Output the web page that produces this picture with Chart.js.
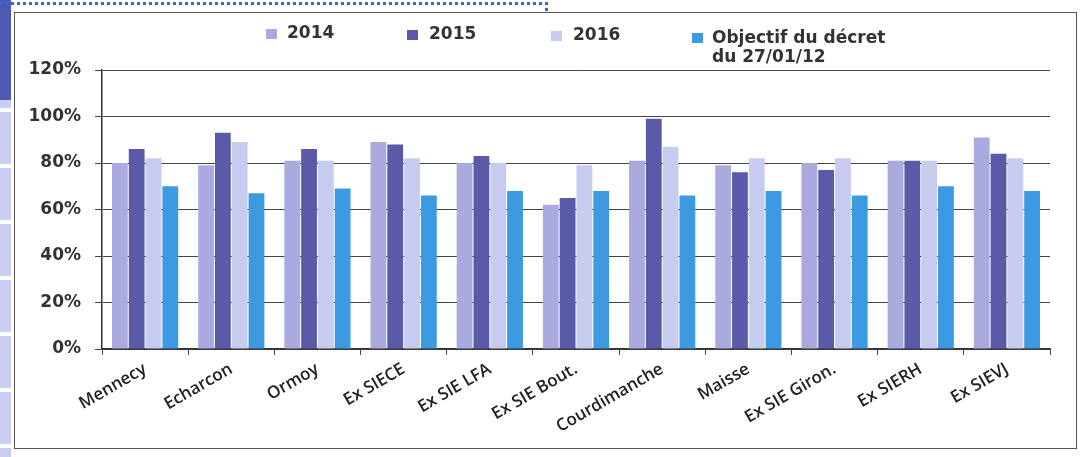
<!DOCTYPE html>
<html>
<head>
<meta charset="utf-8">
<script src="https://cdn.jsdelivr.net/npm/chart.js@4.4.0/dist/chart.umd.min.js"></script>
<style>
  html, body { margin: 0; padding: 0; background: #fff; }
  #wrap { position: relative; width: 1083px; height: 457px; overflow: hidden; background: #fff; }
  #frame { position: absolute; left: 14px; top: 12px; width: 1063px; height: 437px; border: 1px solid #555; box-sizing: border-box; }
  #strip { position: absolute; left: 0; top: 0; width: 11px; height: 457px;
    background: repeating-linear-gradient(#c9cdf0 0, #c9cdf0 52px, #fff 52px, #fff 56px);
  }
  #stripTop { position: absolute; left: 0; top: 0; width: 11px; height: 100px; background: #4d5ab2; }
  #dots { position: absolute; left: 0; top: 2px; width: 545px; height: 6px;
    border-top: 3px dotted #2f6fc6; border-right: 3px dotted #2f6fc6; }
  #legend .box { position: absolute; width: 11px; height: 10px; }
  #legend .txt { position: absolute; font: bold 17px "DejaVu Sans"; line-height: 19px; color: #333; }
  canvas { position: absolute; left: 0; top: 0; }
</style>
</head>
<body>
<div id="wrap">
  <div id="strip"></div>
  <div id="stripTop"></div>
  <div id="dots"></div>
  <div id="frame"></div>
  <canvas id="chart_elem" width="1083" height="457"></canvas>
  <div id="legend"></div>
</div>
<script>
// data (percent)
const categories = ['Mennecy', 'Echarcon', 'Ormoy', 'Ex SIECE', 'Ex SIE LFA', 'Ex SIE Bout.',
  'Courdimanche', 'Maisse', 'Ex SIE Giron.', 'Ex SIERH', 'Ex SIEVJ'];

const values2014 = [80, 79, 81, 89, 80, 62, 81, 79, 80, 81, 91];
const values2015 = [86, 93, 86, 88, 83, 65, 99, 76, 77, 81, 84];
const values2016 = [82, 89, 81, 82, 80, 79, 87, 82, 82, 81, 82];
const objectif = [70, 67, 69, 66, 68, 68, 66, 68, 66, 70, 68];

const seriesLabels = ['2014', '2015', '2016', 'Objectif du décret du 27/01/12'];
const yTicks = [0, 20, 40, 60, 80, 100, 120];

const colors = ['#aaaade', '#5b5aa9', '#c6cbef', '#3c9ae0'];

const canvas = document.getElementById('chart_elem');
const ctx = canvas.getContext('2d');

const data = {
  labels: categories,
  datasets: [values2014, values2015, values2016, objectif].map((vals, i) => ({
    label: seriesLabels[i],
    data: vals,
    backgroundColor: colors[i],
    borderWidth: 0,
    barPercentage: 0.94,
    categoryPercentage: 0.78
  }))
};

const config = {
  type: 'bar',
  data,
  options: {
    responsive: false,
    animation: false,
    layout: { padding: { top: 70, right: 33, bottom: 8, left: 0 } },
    plugins: { legend: { display: false }, tooltip: { enabled: false } },
    scales: {
      x: {
        afterFit: (s) => { s.height = 100; },
        grid: { drawOnChartArea: false, drawTicks: true, tickLength: 6, color: '#444' },
        border: { color: '#333', width: 1.5 },
        ticks: {
          autoSkip: false, minRotation: 30, maxRotation: 30, padding: 4,
          color: '#222', font: { family: 'Open Sans', size: 17, weight: '600' }
        }
      },
      y: {
        min: 0,
        max: 120,
        afterFit: (s) => { s.width = 102; },
        afterBuildTicks: (s) => { s.ticks = yTicks.map(v => ({ value: v })); },
        grid: { color: '#444', tickLength: 7 },
        border: { color: '#333', width: 1.5 },
        ticks: {
          padding: 14, color: '#333',
          font: { family: 'DejaVu Sans', size: 17, weight: 'bold' },
          callback: (v) => v + '%'
        }
      }
    }
  }
};
const chart = new Chart(ctx, config);

// legend laid out like the original (one row, last entry on two lines)
const legendSpots = [[266, 29, 287, 23], [407, 30, 429, 24], [551, 31, 573, 25], [692, 33, 712, 28]];
const legend = document.getElementById('legend');
seriesLabels.forEach((lab, i) => {
  const [bx, by, tx, ty] = legendSpots[i];
  const box = document.createElement('div');
  box.className = 'box';
  box.style.left = bx + 'px';
  box.style.top = by + 'px';
  box.style.background = colors[i];
  const txt = document.createElement('div');
  txt.className = 'txt';
  txt.style.left = tx + 'px';
  txt.style.top = ty + 'px';
  txt.style.width = '190px';
  txt.textContent = lab;
  legend.appendChild(box);
  legend.appendChild(txt);
});
</script>
</body>
</html>
